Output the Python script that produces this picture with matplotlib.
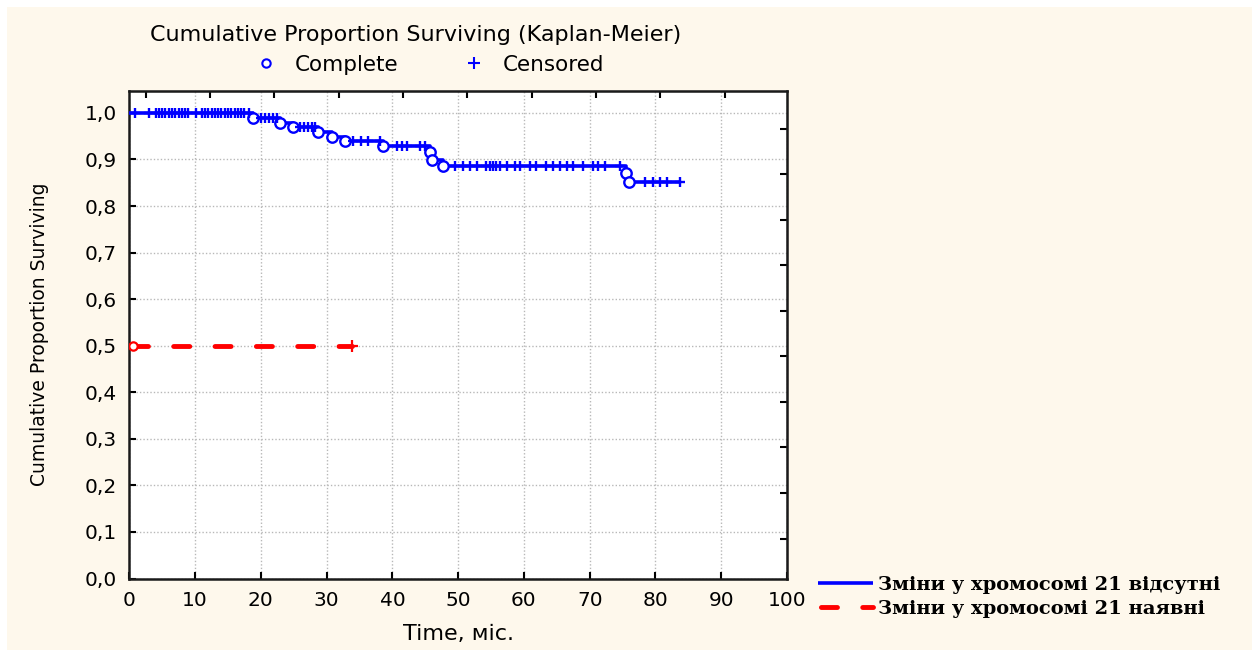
import matplotlib

matplotlib.use("Agg")
import matplotlib.pyplot as plt
import numpy as np
from matplotlib.lines import Line2D
from matplotlib.patches import Rectangle

# Kaplan-Meier estimate, group without chromosome 21 changes
EVENT_T = [18.8, 22.9, 24.9, 28.7, 30.8, 32.8, 38.5, 45.7, 46.1, 47.7, 75.5, 76.0]
EVENT_S = [0.989, 0.978, 0.969, 0.958, 0.948, 0.939, 0.928, 0.915, 0.899, 0.886, 0.870, 0.852]
CENS_T = [
    0.8, 3.0, 4.0, 4.5, 5.0, 5.5, 6.0, 6.5, 7.0, 7.5, 8.0, 8.5, 9.0, 10.1,
    11.0, 11.5, 12.0, 12.5, 13.0, 13.5, 14.0, 14.5, 15.0, 15.5, 16.0, 16.5,
    17.0, 17.5, 18.2,
    20.0, 20.6, 21.2, 21.8, 22.4,
    26.0, 26.6, 27.2, 27.8, 28.3,
    34.0, 35.2, 36.3, 38.1,
    40.7, 41.5, 42.2, 44.2, 44.9,
    49.5, 50.8, 51.8, 52.8, 54.3, 54.8, 55.3, 55.8, 56.3, 57.4, 58.6, 59.4,
    60.9, 61.9, 63.4, 64.4, 65.5, 66.5, 67.5, 69.0, 70.5, 71.3, 72.3, 74.6,
    78.4, 79.6, 80.7, 81.7, 83.7,
]

# group with chromosome 21 changes
RED_EVENT_T = [0.6]
RED_EVENT_S = [0.5]
RED_CENS_T = [33.8]

LABEL_ABSENT = "Зміни у хромосомі 21 відсутні"
LABEL_PRESENT = "Зміни у хромосомі 21 наявні"

BLUE = "#0000FF"
RED = "#FF0000"
CREAM = "#FEF8EC"
GRID = "#b8b8b8"

W, H = 1252, 650
TICK_FS = 14.5


def km_curve(ev_t, ev_s, t_end, s0):
    xs = [0.0] + list(ev_t) + [t_end]
    ys = [s0] + list(ev_s) + [ev_s[-1]]
    return np.array(xs), np.array(ys)


def surv_at(t, ev_t, ev_s, s0):
    idx = np.searchsorted(ev_t, t, side="right")
    levels = np.concatenate([[s0], ev_s])
    return levels[idx]


fig = plt.figure(figsize=(W / 100, H / 100), dpi=100, facecolor="white")
fig.add_artist(Rectangle((7 / W, 0), 1, 1 - 7 / H, transform=fig.transFigure,
                         facecolor=CREAM, edgecolor="none", zorder=-5))

ax = fig.add_axes([129.3 / W, 1 - 578.5 / H, 657.7 / W, 487.5 / H])
ax.set_facecolor("white")
ax.set_xlim(0, 100)
ax.set_ylim(0, 1.047)

yt = np.round(np.arange(0, 1.01, 0.1), 1)
ax.set_xticks(np.arange(0, 101, 10))
ax.set_yticks(yt)
ax.set_yticklabels([f"{v:.1f}".replace(".", ",") for v in yt])
ax.tick_params(direction="in", length=5, width=1.5, labelsize=TICK_FS, colors="black")
ax.tick_params(axis="x", pad=9)
ax.tick_params(axis="y", pad=9)
ax.grid(True, color=GRID, linestyle=(0, (1, 1.5)), linewidth=1.0, zorder=0)
ax.set_axisbelow(True)
for sp in ax.spines.values():
    sp.set_linewidth(1.8)
    sp.set_color("#1a1a1a")

# top and right ticks
top = ax.secondary_xaxis("top")
top.set_xticks(2.5 + 9.78 * np.arange(10))
top.tick_params(direction="in", length=5, width=1.5, labeltop=False)
right = ax.secondary_yaxis("right")
right.set_yticks(0.966 - 0.0978 * np.arange(10))
right.tick_params(direction="in", length=5, width=1.5, labelright=False)

# blue group
bx, by = km_curve(EVENT_T, EVENT_S, CENS_T[-1], 1.0)
ax.plot(bx, by, drawstyle="steps-post", color=BLUE, lw=2.6, zorder=3,
        label=LABEL_ABSENT, solid_capstyle="butt")
ax.plot(EVENT_T, EVENT_S, "o", ms=7.5, mfc="white", mec=BLUE, mew=1.7, zorder=4)
ax.plot(CENS_T, surv_at(CENS_T, EVENT_T, EVENT_S, 1.0), "+", ms=7.5,
        mec=BLUE, mew=1.7, zorder=4)

# red group
rx, ry = km_curve(RED_EVENT_T, RED_EVENT_S, RED_CENS_T[-1], RED_EVENT_S[0])
ax.plot(rx, ry, drawstyle="steps-post", color=RED, lw=3.5, zorder=3,
        linestyle=(7.9, (3.3, 5.2)), dash_capstyle="round", label=LABEL_PRESENT)
ax.plot(RED_EVENT_T, RED_EVENT_S, "o", ms=6, mfc="white", mec=RED, mew=1.6, zorder=4)
ax.plot(RED_CENS_T, surv_at(RED_CENS_T, RED_EVENT_T, RED_EVENT_S, 0.5), "+",
        ms=8, mec=RED, mew=1.6, zorder=4)

ax.set_xlabel("Time, міс.", fontsize=16, ha="center", va="center")
ax.xaxis.set_label_coords(0.5, -0.113)
ax.set_ylabel("Cumulative Proportion Surviving", fontsize=13.5,
              family=["Liberation Sans Narrow", "DejaVu Sans"],
              ha="center", va="center")
ax.yaxis.set_label_coords(-0.136, 0.5)

fig.text(416 / W, 1 - 35 / H, "Cumulative Proportion Surviving (Kaplan-Meier)",
         ha="center", va="center", fontsize=16)

marks = [
    Line2D([], [], ls="none", marker="o", ms=6, mfc="white", mec=BLUE, mew=1.5),
    Line2D([], [], ls="none", marker="+", ms=8, mec=BLUE, mew=1.5),
]
fig.legend(marks, ["Complete", "Censored"], loc="center", ncol=2,
           bbox_to_anchor=(430 / W, 1 - 65 / H), frameon=False, fontsize=15.5,
           handlelength=1.0, handletextpad=0.85, columnspacing=3.0,
           borderpad=0, borderaxespad=0)

handles, labels = ax.get_legend_handles_labels()
fig.legend(handles, labels, loc="center left", bbox_to_anchor=(818 / W, 1 - 597 / H),
           frameon=False, prop={"family": "DejaVu Serif", "weight": "bold", "size": 14},
           handlelength=2.85, handletextpad=0.25, labelspacing=0.3,
           borderpad=0, borderaxespad=0)

fig.savefig("out.png", dpi=100, facecolor=fig.get_facecolor())
